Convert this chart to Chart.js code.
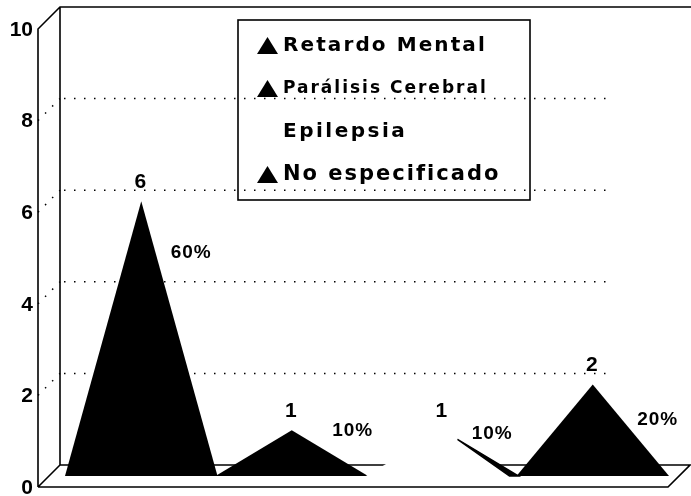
<!DOCTYPE html>
<html>
<head>
<meta charset="utf-8">
<script src="https://cdn.jsdelivr.net/npm/chart.js@4.4.0/dist/chart.umd.min.js"></script>
<style>
  html, body { margin: 0; padding: 0; background: #fff; }
  #wrap { width: 691px; height: 496px; }
</style>
</head>
<body>
<div id="wrap"><canvas id="chart"></canvas></div>
<script>
const categories = ["Retardo Mental", "Parálisis Cerebral", "Epilepsia", "No especificado"];
const counts = [6, 1, 1, 2];
const yTicks = [0, 2, 4, 6, 8, 10];

// look
const fills = ["#000", "#000", "#fff", "#000"];
const DEPTH = 22;
const pctOffsets = [[50, 52], [61, 1], [50, 4], [65, 35]];
const legendFonts = [
  ["bold 20px 'DejaVu Sans'", "2.1px"],
  ["bold 17px 'DejaVu Sans'", "2px"],
  ["bold 20px 'DejaVu Sans'", "2.5px"],
  ["bold 21px 'DejaVu Sans'", "2px"],
];

const total = counts.reduce((a, b) => a + b, 0);

// back wall, floor, dotted grid and axis labels
const frame3d = {
  id: "frame3d",
  beforeDatasetsDraw(chart) {
    const { ctx, chartArea: a, scales: { y } } = chart;
    const left = a.left - 17, right = a.right + 11;
    const y0 = y.getPixelForValue(0), yTop = y.getPixelForValue(10);
    ctx.save();
    ctx.strokeStyle = "#000";

    // dotted grid on the back wall + dotted ticks on the side
    ctx.lineWidth = 1.5;
    ctx.setLineDash([1.5, 8.5]);
    yTicks.filter(v => v > 0 && v < 10).forEach(v => {
      const py = y.getPixelForValue(v);
      ctx.beginPath();
      ctx.moveTo(left + DEPTH + 4, py - DEPTH);
      ctx.lineTo(612, py - DEPTH);
      ctx.stroke();
      ctx.beginPath();
      ctx.moveTo(left, py);
      ctx.lineTo(left + DEPTH, py - DEPTH);
      ctx.stroke();
    });
    ctx.setLineDash([]);

    ctx.lineWidth = 1.6;
    ctx.beginPath();
    // front axis
    ctx.moveTo(left, y0); ctx.lineTo(left, yTop);
    ctx.lineTo(left + DEPTH, yTop - DEPTH);
    ctx.lineTo(691, yTop - DEPTH);
    // back wall vertical
    ctx.moveTo(left + DEPTH, yTop - DEPTH); ctx.lineTo(left + DEPTH, y0 - DEPTH);
    // floor
    ctx.moveTo(left, y0); ctx.lineTo(left + DEPTH, y0 - DEPTH);
    ctx.lineTo(right + DEPTH, y0 - DEPTH);
    ctx.lineTo(right, y0); ctx.lineTo(left, y0);
    ctx.stroke();

    // y tick labels
    ctx.fillStyle = "#000";
    ctx.font = "bold 21px 'Liberation Sans'";
    ctx.textAlign = "right";
    ctx.textBaseline = "middle";
    yTicks.forEach(v => ctx.fillText(String(v), left - 5, y.getPixelForValue(v) + 1));
    ctx.restore();
  },
  afterDatasetsDraw(chart) {
    const { ctx } = chart;
    const meta = chart.getDatasetMeta(0);
    const off = DEPTH / 2;
    ctx.save();
    meta.data.forEach((bar, i) => {
      const half = bar.width / 2 + 1;
      const xc = bar.x + off, top = bar.y - off, base = bar.base - off;
      ctx.beginPath();
      ctx.moveTo(xc - half, base);
      ctx.lineTo(xc, top);
      ctx.lineTo(xc + half, base);
      ctx.closePath();
      ctx.fillStyle = fills[i];
      ctx.fill();
      if (fills[i] === "#fff") {
        // only the shaded right edge shows on the white pyramid
        const sx = xc + half * 0.2, sy = top + (base - top) * 0.2;
        ctx.beginPath();
        ctx.moveTo(sx, sy);
        ctx.lineTo(xc + half, base);
        ctx.lineTo(xc + half - 9, base);
        ctx.closePath();
        ctx.fillStyle = "#000";
        ctx.fill();
        ctx.lineWidth = 1.5;
        ctx.stroke();
      }

      ctx.fillStyle = "#000";
      ctx.textBaseline = "middle";
      ctx.textAlign = "center";
      ctx.font = "bold 21px 'Liberation Sans'";
      ctx.letterSpacing = "0px";
      ctx.fillText(String(counts[i]), xc - 1, top - 19);

      ctx.font = "bold 19px 'Liberation Sans'";
      ctx.letterSpacing = "1px";
      const pct = Math.round(counts[i] / total * 100) + "%";
      ctx.fillText(pct, xc + pctOffsets[i][0], top + pctOffsets[i][1]);
    });

    // legend box
    ctx.letterSpacing = "0px";
    ctx.lineWidth = 1.6;
    ctx.strokeStyle = "#000";
    ctx.strokeRect(238, 20, 292, 180);
    categories.forEach((name, i) => {
      const cy = 46 + i * 43;
      ctx.beginPath();
      ctx.moveTo(257, cy + 8);
      ctx.lineTo(267.5, cy - 9);
      ctx.lineTo(278, cy + 8);
      ctx.closePath();
      ctx.fillStyle = fills[i];
      ctx.fill();
      ctx.fillStyle = "#000";
      ctx.font = legendFonts[i][0];
      ctx.letterSpacing = legendFonts[i][1];
      ctx.textAlign = "left";
      ctx.textBaseline = "middle";
      ctx.fillText(name, 283, cy);
    });
    ctx.restore();
  }
};

new Chart(document.getElementById("chart"), {
  type: "bar",
  data: {
    labels: categories,
    datasets: [{
      label: "Casos",
      data: counts,
      backgroundColor: "rgba(0,0,0,0)",
      barPercentage: 1,
      categoryPercentage: 1,
    }],
  },
  options: {
    responsive: true,
    maintainAspectRatio: false,
    animation: false,
    layout: { padding: { top: 29, bottom: 9, left: 0, right: 34 } },
    plugins: { legend: { display: false }, tooltip: { enabled: false } },
    scales: {
      x: { display: false },
      y: {
        min: 0,
        max: 10,
        afterBuildTicks: (scale) => { scale.ticks = yTicks.map(v => ({ value: v })); },
        afterFit: (scale) => { scale.width = 55; },
        grid: { display: false, drawTicks: false },
        border: { display: false },
        ticks: { display: false },
      },
    },
  },
  plugins: [frame3d],
});
</script>
</body>
</html>
